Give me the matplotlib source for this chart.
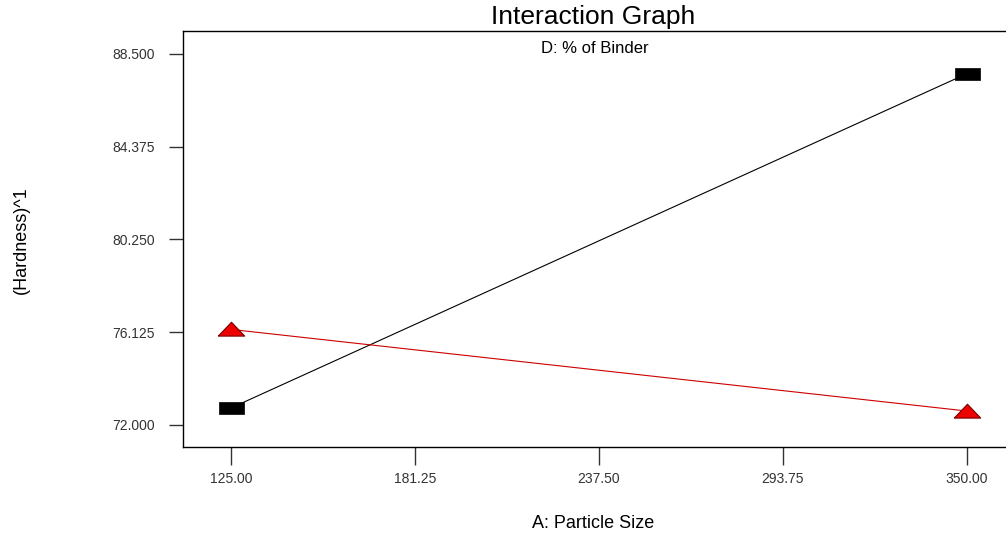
import matplotlib
matplotlib.use("Agg")
import matplotlib.pyplot as plt

plt.rcParams['font.family'] = ['Liberation Sans', 'DejaVu Sans']

# Data
particle_size = [125.0, 350.0]
binder_low = [72.75, 87.62]    # black squares
binder_high = [76.25, 72.62]   # red triangles
x_ticks = [125.00, 181.25, 237.50, 293.75, 350.00]
y_ticks = [72.000, 76.125, 80.250, 84.375, 88.500]

fig = plt.figure(figsize=(10.06, 5.38), dpi=100)
ax = fig.add_axes([183 / 1006, 1 - 447 / 538, 1 - 183 / 1006, (447 - 31) / 538])

rect = [(-1, -0.5), (1, -0.5), (1, 0.5), (-1, 0.5), (-1, -0.5)]
tri = [(-1, -0.5), (1, -0.5), (0, 0.55), (-1, -0.5)]
ax.plot(particle_size, binder_low, color='black', lw=0.8,
        marker=rect, markersize=18, markerfacecolor='black', markeredgecolor='black',
        markeredgewidth=0.5)
ax.plot(particle_size, binder_high, color='#cc0000', lw=0.8,
        marker=tri, markersize=19, markerfacecolor='#ee0000', markeredgecolor='#7a0000',
        markeredgewidth=0.8)

ax.set_xlim(110.4, 362)
ax.set_ylim(71.02, 89.52)
ax.set_xticks(x_ticks)
ax.set_xticklabels([f"{v:.2f}" for v in x_ticks])
ax.set_yticks(y_ticks)
ax.set_yticklabels([f"{v:.3f}" for v in y_ticks])
ax.tick_params(axis='y', length=10, width=1, labelsize=10, colors='#333333', pad=10)
ax.tick_params(axis='x', length=13, width=1, labelsize=10, colors='#333333', pad=5)
ax.spines['right'].set_visible(False)
for s in ['left', 'top', 'bottom']:
    ax.spines[s].set_linewidth(1.0)

ax.text(0.5, 0.975, "D: % of Binder", transform=ax.transAxes, ha='center', va='top',
        fontsize=12)
fig.text(593 / 1006, 1 - 17 / 538, "Interaction Graph", ha='center', va='center', fontsize=19)
fig.text(593 / 1006, 1 - 524 / 538, "A: Particle Size", ha='center', va='center', fontsize=13)
fig.text(21 / 1006, 1 - 240 / 538, "(Hardness)^1", ha='center', va='center', fontsize=13,
         rotation=90)

fig.savefig("out.png", dpi=100)
